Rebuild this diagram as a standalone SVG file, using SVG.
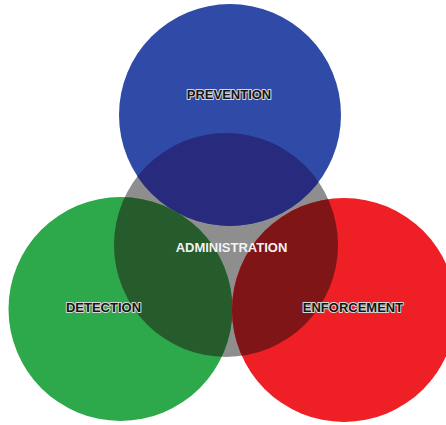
<svg xmlns="http://www.w3.org/2000/svg" width="446" height="425" viewBox="0 0 446 425">
  <style>
    .label { font-family: "Liberation Sans", Arial, sans-serif; font-size: 13px; font-weight: bold; text-anchor: middle; }
    .outlined { fill: #151515; stroke: #d8d8d8; stroke-width: 2; paint-order: stroke; stroke-linejoin: round; }
    .core { fill: #f2f2f2; }
  </style>
  <defs>
    <clipPath id="clip-prevention"><circle cx="230" cy="115" r="111"/></clipPath>
    <clipPath id="clip-detection"><circle cx="120.5" cy="309" r="112"/></clipPath>
    <clipPath id="clip-enforcement"><circle cx="344" cy="310" r="112"/></clipPath>
  </defs>
  <rect width="446" height="425" fill="#ffffff"/>

  <g id="administration">
    <circle cx="226" cy="245" r="112" fill="#8e8e8e"/>
  </g>

  <g id="prevention">
    <circle cx="230" cy="115" r="111" fill="#2f4ba7"/>
  </g>

  <g id="detection">
    <circle cx="120.5" cy="309" r="112" fill="#2da84a"/>
  </g>

  <g id="enforcement">
    <circle cx="344" cy="310" r="112" fill="#ee1f25"/>
  </g>

  <!-- darker lenses where each area overlaps administration -->
  <g id="overlaps">
    <circle cx="226" cy="245" r="112" fill="#272a7d" clip-path="url(#clip-prevention)"/>
    <circle cx="226" cy="245" r="112" fill="#265c2c" clip-path="url(#clip-detection)"/>
    <circle cx="226" cy="245" r="112" fill="#7f1517" clip-path="url(#clip-enforcement)"/>
  </g>

  <g id="connectors"/>

  <g id="labels">
    <text class="label outlined" x="229" y="99">PREVENTION</text>
    <text class="label core" x="231.5" y="252">ADMINISTRATION</text>
    <text class="label outlined" x="103.5" y="312">DETECTION</text>
    <text class="label outlined" x="353" y="312">ENFORCEMENT</text>
  </g>
</svg>
